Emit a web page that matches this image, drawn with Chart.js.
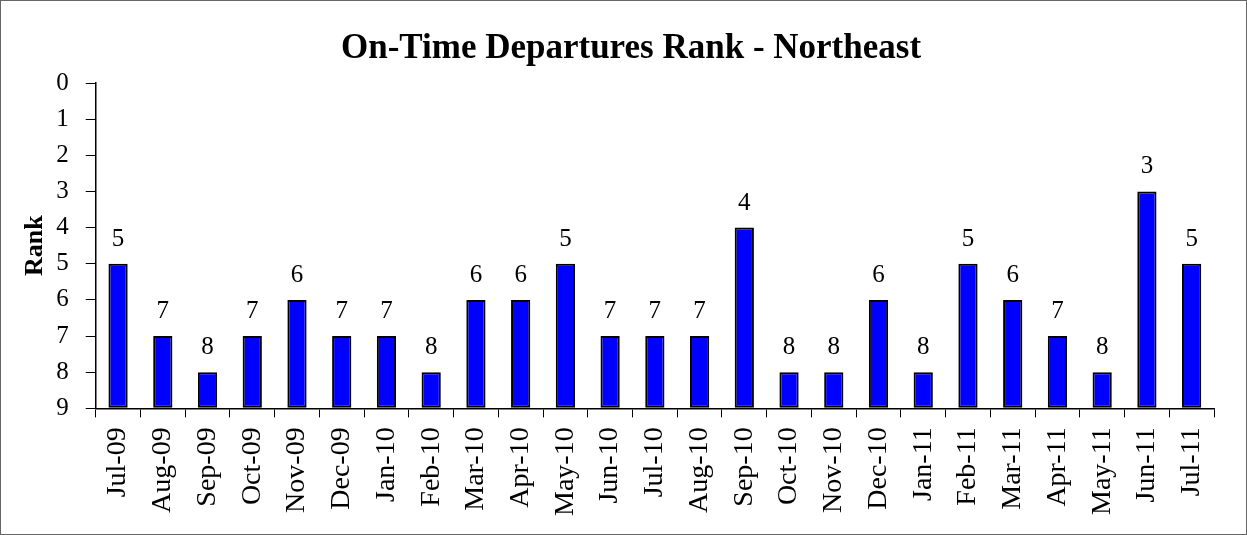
<!DOCTYPE html>
<html>
<head>
<meta charset="utf-8">
<script src="https://cdn.jsdelivr.net/npm/chart.js@4/dist/chart.umd.min.js"></script>
<style>
  html, body { margin: 0; padding: 0; background: #fff; }
  #wrap { width: 1245px; height: 533px; border: 1px solid #666; }
</style>
</head>
<body>
<div id="wrap"><canvas id="rankChart" width="1245" height="533"></canvas></div>
<script>
// data
const months = ['Jul-09', 'Aug-09', 'Sep-09', 'Oct-09', 'Nov-09', 'Dec-09', 'Jan-10', 'Feb-10',
  'Mar-10', 'Apr-10', 'May-10', 'Jun-10', 'Jul-10', 'Aug-10', 'Sep-10', 'Oct-10', 'Nov-10',
  'Dec-10', 'Jan-11', 'Feb-11', 'Mar-11', 'Apr-11', 'May-11', 'Jun-11', 'Jul-11'];
const ranks = [5, 7, 8, 7, 6, 7, 7, 8, 6, 6, 5, 7, 7, 7, 4, 8, 8, 6, 8, 5, 6, 7, 8, 3, 5];
const rankTicks = [0, 1, 2, 3, 4, 5, 6, 7, 8, 9];

const serif = 'Liberation Serif, Times New Roman, serif';

// write the value above each bar
const valueLabels = {
  id: 'valueLabels',
  afterDatasetsDraw(chart) {
    const ctx = chart.ctx;
    const meta = chart.getDatasetMeta(0);
    ctx.save();
    ctx.font = '25px ' + serif;
    ctx.fillStyle = '#000';
    ctx.textAlign = 'center';
    ctx.textBaseline = 'alphabetic';
    meta.data.forEach((bar, i) => {
      ctx.fillText(String(ranks[i]), bar.x, bar.y - 18);
    });
    ctx.restore();
  }
};

new Chart(document.getElementById('rankChart'), {
  type: 'bar',
  data: {
    labels: months,
    datasets: [{
      label: 'Rank',
      data: ranks,
      base: 9,
      backgroundColor: '#0000ff',
      borderColor: '#000',
      borderWidth: 2,
      borderSkipped: false,
      barPercentage: 0.43,
      categoryPercentage: 1
    }]
  },
  options: {
    responsive: false,
    animation: false,
    // left padding is larger so the title centres where the original does
    layout: { padding: { left: 47, right: 32, top: 0, bottom: 8 } },
    plugins: {
      legend: { display: false },
      tooltip: { enabled: false },
      title: {
        display: true,
        text: 'On-Time Departures Rank - Northeast',
        color: '#000',
        font: { family: serif, size: 35, weight: 'bold' },
        padding: { top: 27, bottom: 13 }
      }
    },
    scales: {
      y: {
        reverse: true,
        min: 0,
        max: 9,
        afterBuildTicks: axis => { axis.ticks = rankTicks.map(v => ({ value: v })); },
        ticks: { color: '#000', font: { family: serif, size: 25 }, padding: 17 },
        grid: { drawOnChartArea: false, drawTicks: true, tickLength: 10, color: '#000' },
        border: { display: true, color: '#000', width: 1.5 },
        title: {
          display: true,
          text: 'Rank',
          color: '#000',
          font: { family: serif, size: 26, weight: 'bold' },
          padding: { top: -28, bottom: -12 }
        }
      },
      x: {
        ticks: {
          color: '#000',
          font: { family: serif, size: 28 },
          maxRotation: 90,
          minRotation: 90,
          autoSkip: false,
          padding: 10
        },
        grid: { drawOnChartArea: false, drawTicks: true, tickLength: 9, color: '#000', offset: true },
        border: { display: true, color: '#000', width: 1.5 }
      }
    }
  },
  plugins: [valueLabels]
});
</script>
</body>
</html>
